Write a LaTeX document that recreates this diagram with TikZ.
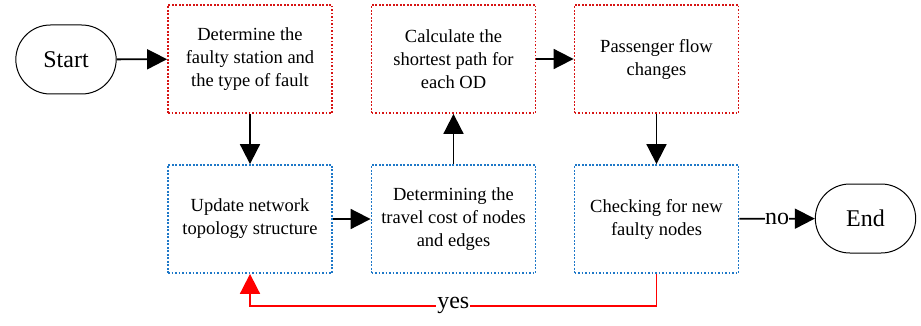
\documentclass[tikz,border=0pt]{standalone}
\usepackage{fontspec}
\setmainfont{Liberation Serif}
\usetikzlibrary{arrows.meta,shapes.misc}
\definecolor{boxred}{RGB}{215,20,20}
\definecolor{boxblue}{RGB}{30,120,200}
\begin{document}
\begin{tikzpicture}[x=1pt, y=-1pt,
	box/.style={rectangle, minimum width=164pt, minimum height=108pt, line width=1.8pt, dash pattern=on 1.8pt off 1.7pt, align=center, font=\fontsize{18.5}{23}\selectfont, inner sep=0pt},
	redbox/.style={box, draw=boxred},
	bluebox/.style={box, draw=boxblue},
	term/.style={rounded rectangle, draw, line width=1pt, minimum width=107pt, minimum height=69pt, font=\fontsize{24}{28}\selectfont},
	arr/.style={line width=1.8pt, -{Triangle[length=20pt,width=20pt]}},
	lbl/.style={fill=white, inner sep=1pt, font=\fontsize{24}{28}\selectfont}]
	\useasboundingbox (0,0) rectangle (921,326);
	% top row
	\node[term]    (start) at (66,59.5)   {Start};
	\node[redbox]  (fault) at (250,59)    {Determine the\\faulty station and\\the type of fault};
	\node[redbox]  (path)  at (453.5,59)  {Calculate the\\shortest path for\\each OD};
	\node[redbox]  (flow)  at (656.5,59)  {Passenger flow\\changes};
	% bottom row
	\node[bluebox] (update) at (250,219)   {Update network\\topology structure};
	\node[bluebox] (cost)   at (453.5,219) {Determining the\\travel cost of nodes\\and edges};
	\node[bluebox] (check)  at (656.5,219) {Checking for new\\faulty nodes};
	\node[term]    (end)    at (865.5,218.5) {End};
	% arrows
	\draw[arr] (start) -- (fault);
	\draw[arr] (fault) -- (update);
	\draw[arr] (update) -- (cost);
	\draw[arr] (cost) -- (path);
	\draw[arr] (path) -- (flow);
	\draw[arr] (flow) -- (check);
	\draw[arr] (check) -- node[lbl, inner sep=0pt] {no} (end);
	\draw[arr, red] (check.south) -- ++(0,32) -| node[lbl, pos=.25, text=black] {yes} (update.south);
\end{tikzpicture}
\end{document}
